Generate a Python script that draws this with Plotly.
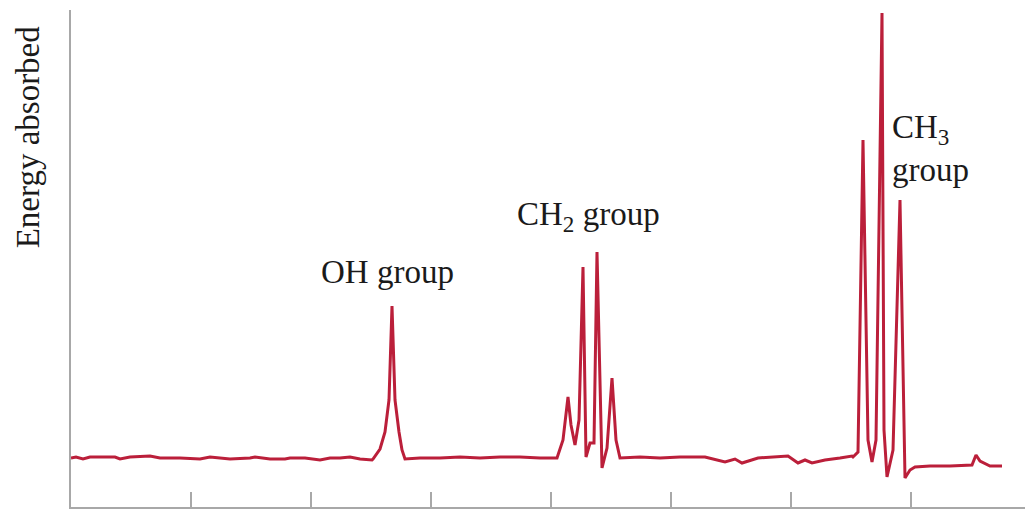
import plotly.graph_objects as go

# Chemical-shift position (arbitrary units, increasing to the right) and energy absorbed (arbitrary units)
shift = [
    # baseline before OH
    0, 5, 12, 19, 29, 44, 49, 59, 79, 89, 109, 129, 139, 159, 179, 184, 199, 214, 219, 234, 249, 259, 269, 279, 289, 301,
    # OH peak
    302, 309, 314, 318, 321, 324, 328, 331, 334,
    # baseline
    349, 369, 389, 409, 429, 449, 469, 485,
    # CH2 quartet
    486, 492, 497, 500, 504, 508, 512, 515, 519, 523, 526, 531, 536, 541, 545, 549,
    # baseline
    569, 589, 609, 634, 654, 664, 671, 687, 704, 717, 727, 734, 741, 754, 769, 781,
    # CH3 triplet
    782, 787, 792, 797, 801, 805, 811, 813, 816, 822, 829, 834, 839, 844,
    # tail with reference peak
    859, 879, 901, 905, 909, 919, 931,
]
energy = [
    1, 2, 0, 2, 2, 2, 0, 2, 3, 1, 1, 0, 2, 0, 1, 2, 0, 0, 1, 1, -1, 1, 1, 2, 0, -1,
    0, 10, 27, 59, 153, 59, 27, 9, 0,
    1, 1, 2, 1, 2, 2, 1, 1,
    1, 19, 62, 34, 14, 39, 192, 2, 16, 16, 207, -9, 11, 81, 19, 1,
    2, 1, 2, 2, -3, 0, -4, 1, 2, 3, -4, -1, -4, -1, 1, 3,
    2, 7, 319, 19, -3, 19, 446, 29, -18, 9, 259, -19, -11, -8,
    -7, -7, -6, 4, -2, -7, -7,
]
tick_positions = [120, 240, 360, 480, 600, 720, 840]

labels = ["OH group", "CH<sub>2</sub> group", "CH<sub>3</sub><br>group"]
label_x = [316, 517, 819]
label_y = [187, 243, 311]
label_anchor = ["center", "center", "left"]

SERIF = "Liberation Serif, Times New Roman, serif"
LINE = "#bb1f3a"
AXIS = "#a8a8a8"

fig = go.Figure()
fig.add_trace(go.Scatter(
    x=shift, y=energy, mode="lines",
    line=dict(color=LINE, width=3),
    hoverinfo="skip", showlegend=False,
))

for t, x, y, a in zip(labels, label_x, label_y, label_anchor):
    fig.add_annotation(x=x, y=y, xref="x", yref="y", text=t, showarrow=False,
                       xanchor=a, yanchor="middle", align="left",
                       font=dict(family=SERIF, size=33, color="#1a1a1a"))

fig.add_annotation(x=-0.045, y=0.744, xref="paper", yref="paper",
                   text="Energy absorbed", textangle=-90, showarrow=False,
                   xanchor="center", yanchor="middle",
                   font=dict(family=SERIF, size=33, color="#1a1a1a"))

fig.update_xaxes(range=[0, 954], showgrid=False, zeroline=False,
                 showline=True, linecolor=AXIS, linewidth=1.5,
                 tickvals=tick_positions, ticks="inside", ticklen=15,
                 tickcolor=AXIS, tickwidth=1.5, showticklabels=False)
fig.update_yaxes(range=[-48, 449], showgrid=False, zeroline=False,
                 showline=True, linecolor=AXIS, linewidth=1.5,
                 ticks="", showticklabels=False)

fig.update_layout(width=1025, height=509,
                  margin=dict(l=71, r=0, t=10, b=2),
                  paper_bgcolor="white", plot_bgcolor="white")

fig.write_html("out.html")
